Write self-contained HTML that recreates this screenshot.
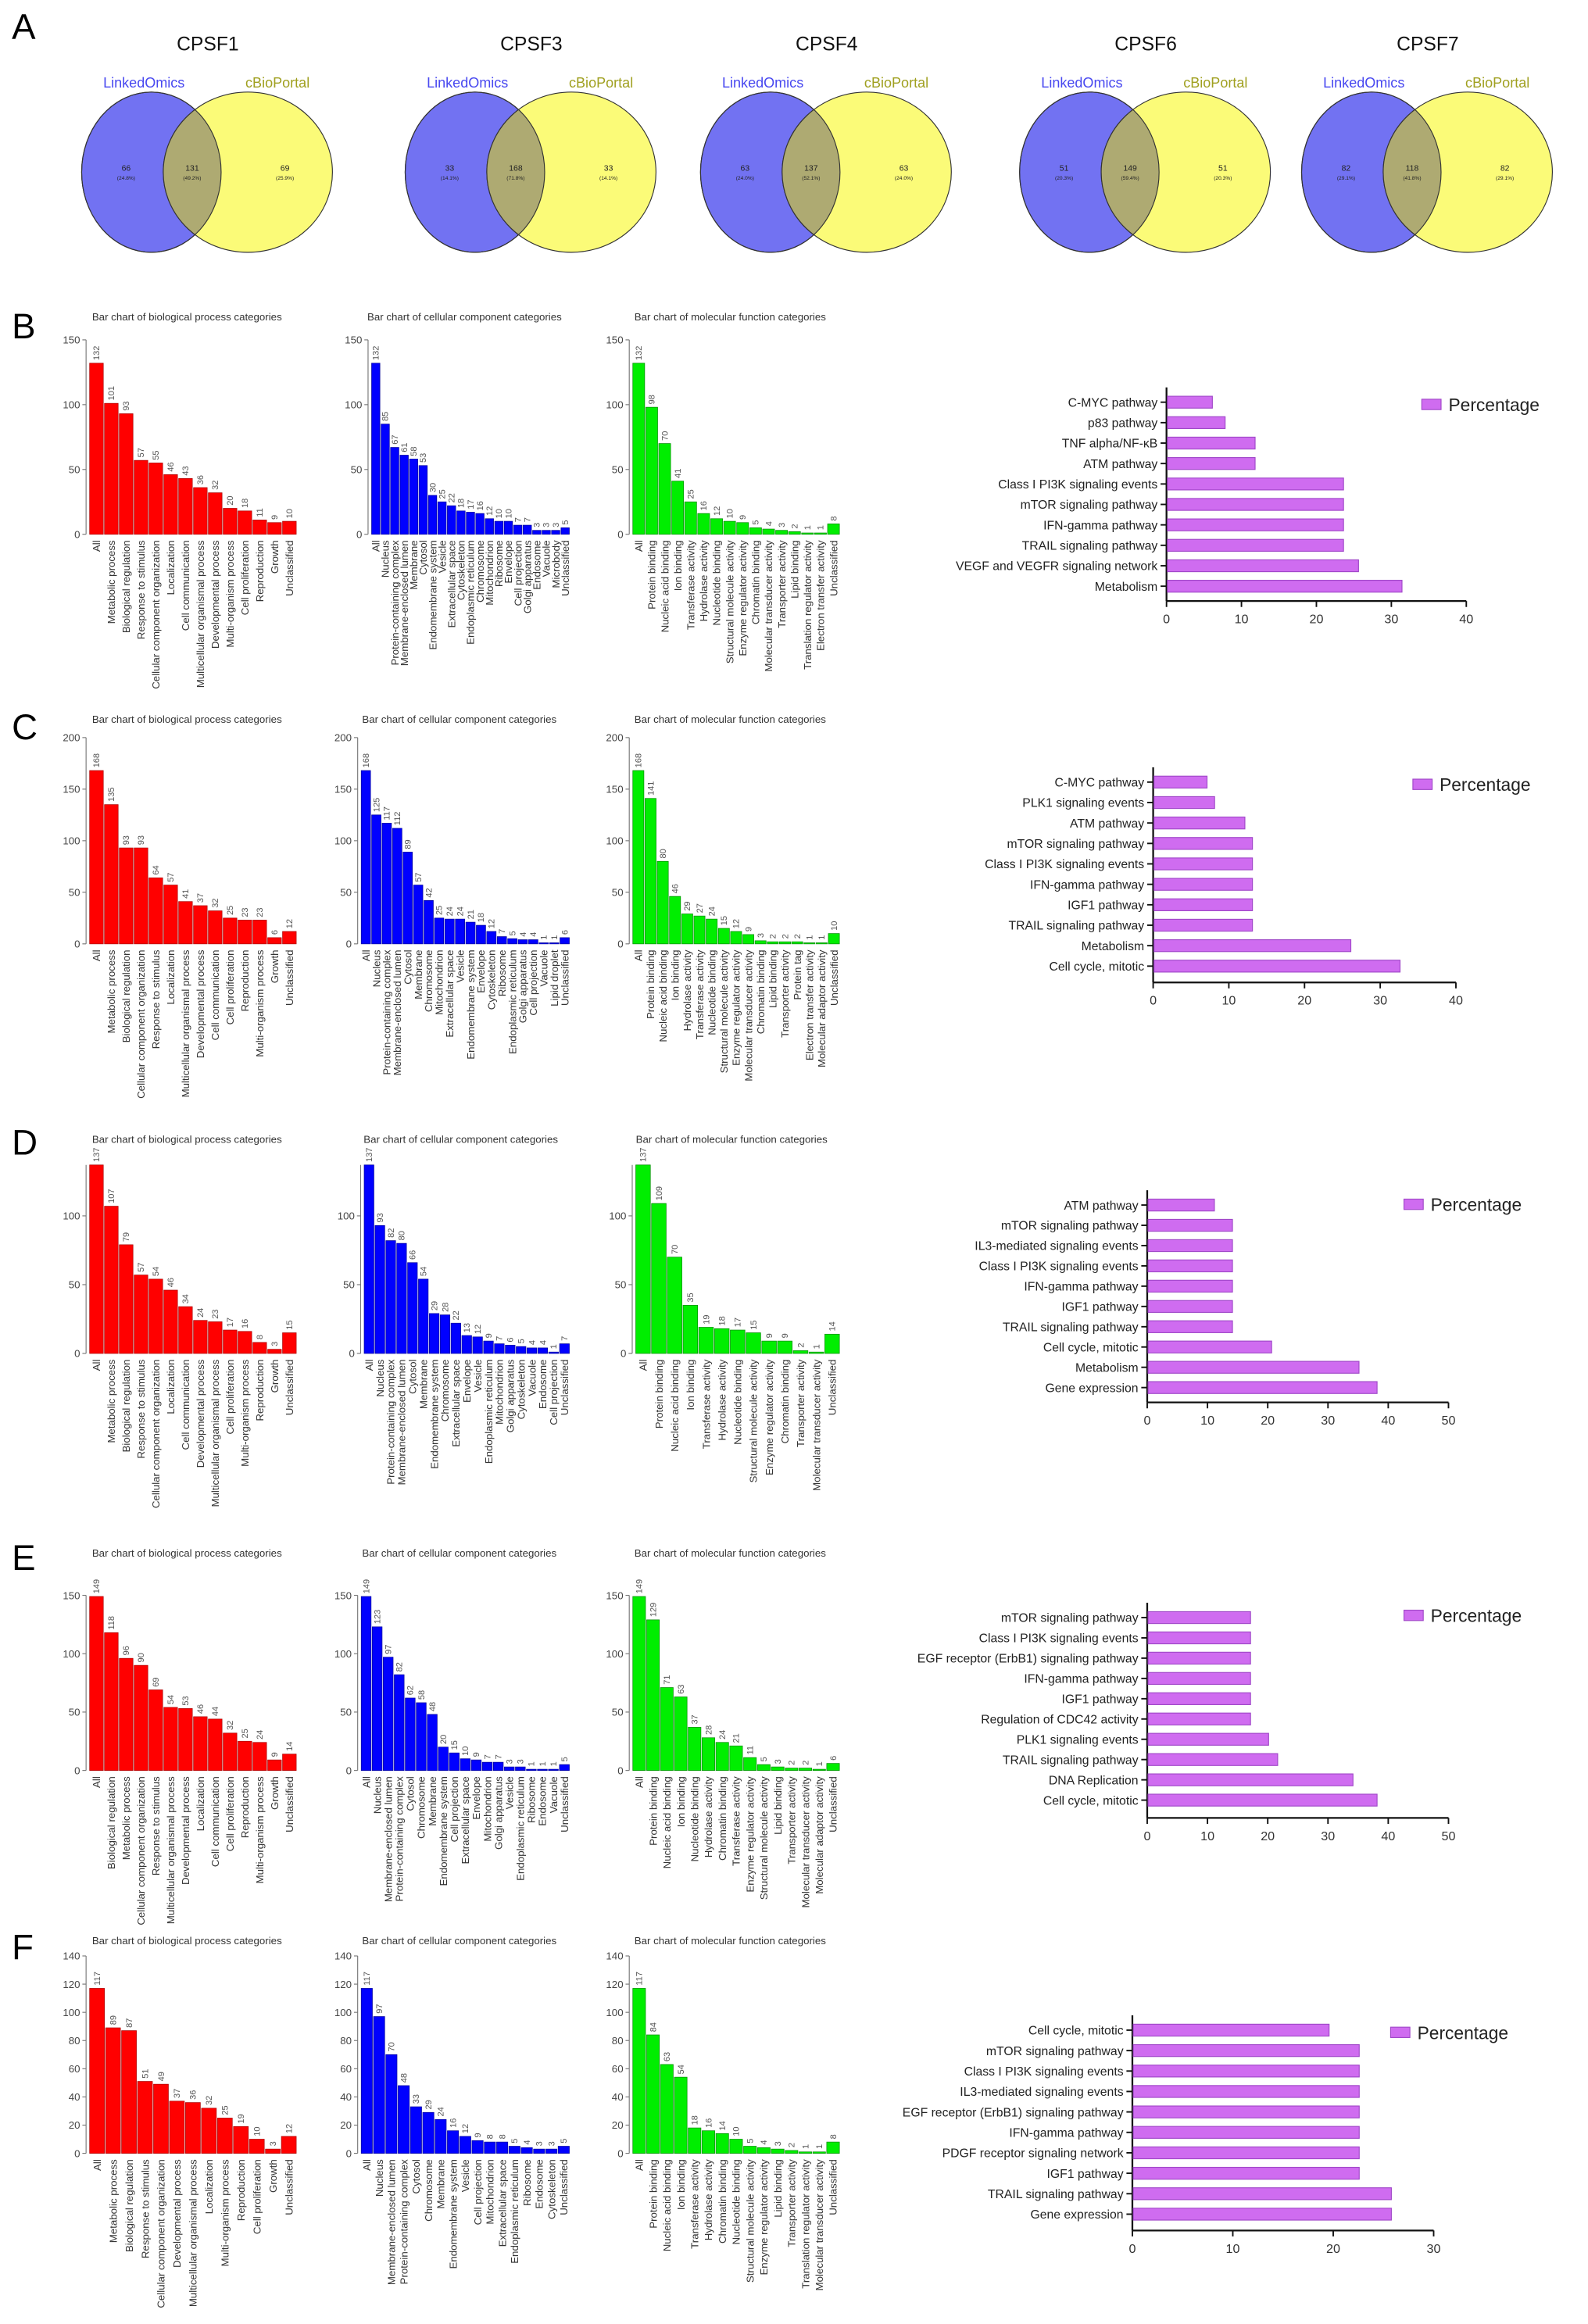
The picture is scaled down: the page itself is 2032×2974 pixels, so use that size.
<!DOCTYPE html>
<html><head><meta charset="utf-8"><style>
html,body{margin:0;padding:0;background:#fff}
svg{display:block;font-family:"Liberation Sans",sans-serif}
</style></head><body>
<svg id="fig" width="2032" height="2974" viewBox="0 0 1070 1566" xmlns="http://www.w3.org/2000/svg"></svg>
<script>
// ---------- Venn data ----------
const vennTitles=["CPSF1","CPSF3","CPSF4","CPSF6","CPSF7"];
const vennLeft=[66,33,63,51,82];
const vennShared=[131,168,137,149,118];
const vennRight=[69,33,63,51,82];
// ---------- Panel B ----------
const bBPcats=["All","Metabolic process","Biological regulation","Response to stimulus","Cellular component organization","Localization","Cell communication","Multicellular organismal process","Developmental process","Multi-organism process","Cell proliferation","Reproduction","Growth","Unclassified"];
const bBPvals=[132,101,93,57,55,46,43,36,32,20,18,11,9,10];
const bCCcats=["All","Nucleus","Protein-containing complex","Membrane-enclosed lumen","Membrane","Cytosol","Endomembrane system","Vesicle","Extracellular space","Cytoskeleton","Endoplasmic reticulum","Chromosome","Mitochondrion","Ribosome","Envelope","Cell projection","Golgi apparatus","Endosome","Vacuole","Microbody","Unclassified"];
const bCCvals=[132,85,67,61,58,53,30,25,22,18,17,16,12,10,10,7,7,3,3,3,5];
const bMFcats=["All","Protein binding","Nucleic acid binding","Ion binding","Transferase activity","Hydrolase activity","Nucleotide binding","Structural molecule activity","Enzyme regulator activity","Chromatin binding","Molecular transducer activity","Transporter activity","Lipid binding","Translation regulator activity","Electron transfer activity","Unclassified"];
const bMFvals=[132,98,70,41,25,16,12,10,9,5,4,3,2,1,1,8];
const bPathCats=["C-MYC pathway","p83 pathway","TNF alpha/NF-κB","ATM pathway","Class I PI3K signaling events","mTOR signaling pathway","IFN-gamma pathway","TRAIL signaling pathway","VEGF and VEGFR signaling network","Metabolism"];
const bPathVals=[6,7.7,11.7,11.7,23.5,23.5,23.5,23.5,25.5,31.3];
// ---------- Panel C ----------
const cBPcats=["All","Metabolic process","Biological regulation","Cellular component organization","Response to stimulus","Localization","Multicellular organismal process","Developmental process","Cell communication","Cell proliferation","Reproduction","Multi-organism process","Growth","Unclassified"];
const cBPvals=[168,135,93,93,64,57,41,37,32,25,23,23,6,12];
const cCCcats=["All","Nucleus","Protein-containing complex","Membrane-enclosed lumen","Cytosol","Membrane","Chromosome","Mitochondrion","Extracellular space","Vesicle","Endomembrane system","Envelope","Cytoskeleton","Ribosome","Endoplasmic reticulum","Golgi apparatus","Cell projection","Vacuole","Lipid droplet","Unclassified"];
const cCCvals=[168,125,117,112,89,57,42,25,24,24,21,18,12,7,5,4,4,1,1,6];
const cMFcats=["All","Protein binding","Nucleic acid binding","Ion binding","Hydrolase activity","Transferase activity","Nucleotide binding","Structural molecule activity","Enzyme regulator activity","Molecular transducer activity","Chromatin binding","Lipid binding","Transporter activity","Protein tag","Electron transfer activity","Molecular adaptor activity","Unclassified"];
const cMFvals=[168,141,80,46,29,27,24,15,12,9,3,2,2,2,1,1,10];
const cPathCats=["C-MYC pathway","PLK1 signaling events","ATM pathway","mTOR signaling pathway","Class I PI3K signaling events","IFN-gamma pathway","IGF1 pathway","TRAIL signaling pathway","Metabolism","Cell cycle, mitotic"];
const cPathVals=[7,8,12,13,13,13,13,13,26,32.5];
// ---------- Panel D ----------
const dBPcats=["All","Metabolic process","Biological regulation","Response to stimulus","Cellular component organization","Localization","Cell communication","Developmental process","Multicellular organismal process","Cell proliferation","Multi-organism process","Reproduction","Growth","Unclassified"];
const dBPvals=[137,107,79,57,54,46,34,24,23,17,16,8,3,15];
const dCCcats=["All","Nucleus","Protein-containing complex","Membrane-enclosed lumen","Cytosol","Membrane","Endomembrane system","Chromosome","Extracellular space","Envelope","Vesicle","Endoplasmic reticulum","Mitochondrion","Golgi apparatus","Cytoskeleton","Vacuole","Endosome","Cell projection","Unclassified"];
const dCCvals=[137,93,82,80,66,54,29,28,22,13,12,9,7,6,5,4,4,1,7];
const dMFcats=["All","Protein binding","Nucleic acid binding","Ion binding","Transferase activity","Hydrolase activity","Nucleotide binding","Structural molecule activity","Enzyme regulator activity","Chromatin binding","Transporter activity","Molecular transducer activity","Unclassified"];
const dMFvals=[137,109,70,35,19,18,17,15,9,9,2,1,14];
const dPathCats=["ATM pathway","mTOR signaling pathway","IL3-mediated signaling events","Class I PI3K signaling events","IFN-gamma pathway","IGF1 pathway","TRAIL signaling pathway","Cell cycle, mitotic","Metabolism","Gene expression"];
const dPathVals=[11,14,14,14,14,14,14,20.5,35,38];
// ---------- Panel E ----------
const eBPcats=["All","Biological regulation","Metabolic process","Cellular component organization","Response to stimulus","Multicellular organismal process","Developmental process","Localization","Cell communication","Cell proliferation","Reproduction","Multi-organism process","Growth","Unclassified"];
const eBPvals=[149,118,96,90,69,54,53,46,44,32,25,24,9,14];
const eCCcats=["All","Nucleus","Membrane-enclosed lumen","Protein-containing complex","Cytosol","Chromosome","Membrane","Endomembrane system","Cell projection","Extracellular space","Envelope","Mitochondrion","Golgi apparatus","Vesicle","Endoplasmic reticulum","Ribosome","Endosome","Vacuole","Unclassified"];
const eCCvals=[149,123,97,82,62,58,48,20,15,10,9,7,7,3,3,1,1,1,5];
const eMFcats=["All","Protein binding","Nucleic acid binding","Ion binding","Nucleotide binding","Hydrolase activity","Chromatin binding","Transferase activity","Enzyme regulator activity","Structural molecule activity","Lipid binding","Transporter activity","Molecular transducer activity","Molecular adaptor activity","Unclassified"];
const eMFvals=[149,129,71,63,37,28,24,21,11,5,3,2,2,1,6];
const ePathCats=["mTOR signaling pathway","Class I PI3K signaling events","EGF receptor (ErbB1) signaling pathway","IFN-gamma pathway","IGF1 pathway","Regulation of CDC42 activity","PLK1 signaling events","TRAIL signaling pathway","DNA Replication","Cell cycle, mitotic"];
const ePathVals=[17,17,17,17,17,17,20,21.5,34,38];
// ---------- Panel F ----------
const fBPcats=["All","Metabolic process","Biological regulation","Response to stimulus","Cellular component organization","Developmental process","Multicellular organismal process","Localization","Multi-organism process","Reproduction","Cell proliferation","Growth","Unclassified"];
const fBPvals=[117,89,87,51,49,37,36,32,25,19,10,3,12];
const fCCcats=["All","Nucleus","Membrane-enclosed lumen","Protein-containing complex","Cytosol","Chromosome","Membrane","Endomembrane system","Vesicle","Cell projection","Mitochondrion","Extracellular space","Endoplasmic reticulum","Ribosome","Endosome","Cytoskeleton","Unclassified"];
const fCCvals=[117,97,70,48,33,29,24,16,12,9,8,8,5,4,3,3,5];
const fMFcats=["All","Protein binding","Nucleic acid binding","Ion binding","Transferase activity","Hydrolase activity","Chromatin binding","Nucleotide binding","Structural molecule activity","Enzyme regulator activity","Lipid binding","Transporter activity","Translation regulator activity","Molecular transducer activity","Unclassified"];
const fMFvals=[117,84,63,54,18,16,14,10,5,4,3,2,1,1,8];
const fPathCats=["Cell cycle, mitotic","mTOR signaling pathway","Class I PI3K signaling events","IL3-mediated signaling events","EGF receptor (ErbB1) signaling pathway","IFN-gamma pathway","PDGF receptor signaling network","IGF1 pathway","TRAIL signaling pathway","Gene expression"];
const fPathVals=[19.5,22.5,22.5,22.5,22.5,22.5,22.5,22.5,25.7,25.7];

const NS="http://www.w3.org/2000/svg";
const svg=document.getElementById('fig');
function mk(tag,attrs,parent,text){const e=document.createElementNS(NS,tag);for(const k in attrs)e.setAttribute(k,attrs[k]);if(text!==undefined)e.textContent=text;(parent||svg).appendChild(e);return e;}

// Panel letters
[["A",18],["B",220],["C",490],["D",770],["E",1050],["F",1312]].forEach(p=>{
  const t=mk('text',{x:8,y:p[1]+8,'font-size':24,fill:'#000'},svg,p[0]);
  
  
});

// Venns
const vennCx=[140,358,557,772,962];
const defs=mk('defs',{});
vennTitles.forEach((title,i)=>{
  const g=mk('g',{});
  
  
  const cx=vennCx[i],cy=116,ry=54,lx=cx-38,rx=cx+27,lrx=47,rrx=57;
  mk('text',{x:cx,y:34,'font-size':13,'text-anchor':'middle',fill:'#111'},g,title);
  mk('text',{x:cx-43,y:59,'font-size':9.5,'text-anchor':'middle',fill:'#4848f0'},g,'LinkedOmics');
  mk('text',{x:cx+47,y:59,'font-size':9.5,'text-anchor':'middle',fill:'#a0a020'},g,'cBioPortal');
  mk('ellipse',{cx:lx,cy:cy,rx:lrx,ry:ry,fill:'#7272f2',stroke:'#333','stroke-width':0.6},g);
  mk('ellipse',{cx:rx,cy:cy,rx:rrx,ry:ry,fill:'#fbfb78',stroke:'#333','stroke-width':0.6},g);
  const cp=mk('clipPath',{id:'cp'+i},defs);mk('ellipse',{cx:lx,cy:cy,rx:lrx,ry:ry},cp);
  mk('ellipse',{cx:rx,cy:cy,rx:rrx,ry:ry,fill:'#aeaa72',stroke:'#333','stroke-width':0.6,'clip-path':'url(#cp'+i+')'},g);
  mk('ellipse',{cx:lx,cy:cy,rx:lrx,ry:ry,fill:'none',stroke:'#333','stroke-width':0.6},g);
  const tl=(x,v,p)=>{mk('text',{x:x,y:cy-1,'font-size':5.5,'text-anchor':'middle',fill:'#222'},g,v);mk('text',{x:x,y:cy+5,'font-size':3.5,'text-anchor':'middle',fill:'#222'},g,p);};
  const tot=vennLeft[i]+vennShared[i]+vennRight[i];
  const ov=(lx+lrx+rx-rrx)/2;
  tl(cx-55,vennLeft[i],'('+(vennLeft[i]/tot*100).toFixed(1)+'%)');
  tl(ov,vennShared[i],'('+(vennShared[i]/tot*100).toFixed(1)+'%)');
  tl(cx+52,vennRight[i],'('+(vennRight[i]/tot*100).toFixed(1)+'%)');
});

// Vertical bar chart
function barChart(o){
  const g=mk('g',{});
  
  
  const yS=v=>o.y0-(v/o.max)*(o.y0-o.yTop);
  const n=o.cats.length,bw=(o.x1-o.x0)/n;
  mk('text',{x:o.x0+(o.x1-o.x0)/2-4,y:o.titleY,'font-size':7,'text-anchor':'middle',fill:'#333'},g,o.title);
  mk('line',{x1:o.x0-2,y1:o.yTop,x2:o.x0-2,y2:o.y0,stroke:'#777','stroke-width':0.6},g);
  o.ticks.forEach(t=>{
    mk('line',{x1:o.x0-4.5,y1:yS(t),x2:o.x0-2,y2:yS(t),stroke:'#777','stroke-width':0.6},g);
    mk('text',{x:o.x0-6,y:yS(t)+2.5,'font-size':7,'text-anchor':'end',fill:'#444'},g,t);
  });
  o.cats.forEach((c,i)=>{
    const x=o.x0+i*bw,v=o.vals[i];
    const b=mk('rect',{x:x+0.4,y:yS(v),width:bw-0.8,height:o.y0-yS(v),fill:o.color,stroke:o.stroke,'stroke-width':0.4},g);
    
    
    const xm=x+bw/2;
    mk('text',{x:xm+2,y:yS(v)-2,'font-size':5.8,fill:'#555',transform:`rotate(-90 ${xm+2} ${yS(v)-2})`},g,v);
    mk('text',{x:xm+2.5,y:o.y0+4,'font-size':7,'text-anchor':'end',fill:'#333',transform:`rotate(-90 ${xm+2.5} ${o.y0+4})`},g,c);
  });
}
// Horizontal pathway chart
function pathChart(o){
  const g=mk('g',{});
  
  
  const xS=v=>o.x0+(v/o.max)*(o.x1-o.x0);
  const n=o.cats.length,step=(o.yLast-o.yFirst)/(n-1);
  mk('line',{x1:o.x0,y1:o.yFirst-10,x2:o.x0,y2:o.yBot,stroke:'#111','stroke-width':1.2},g);
  mk('line',{x1:o.x0,y1:o.yBot,x2:o.x1,y2:o.yBot,stroke:'#111','stroke-width':1.2},g);
  o.ticks.forEach(t=>{
    mk('line',{x1:xS(t),y1:o.yBot,x2:xS(t),y2:o.yBot+4,stroke:'#111','stroke-width':1},g);
    mk('text',{x:xS(t),y:o.yBot+15,'font-size':8.5,'text-anchor':'middle',fill:'#333'},g,t);
  });
  o.cats.forEach((c,i)=>{
    const y=o.yFirst+i*step,v=o.vals[i];
    mk('line',{x1:o.x0-4,y1:y,x2:o.x0,y2:y,stroke:'#111','stroke-width':1},g);
    const b=mk('rect',{x:o.x0+0.6,y:y-4,width:xS(v)-o.x0,height:8,fill:'#cf6cf0',stroke:'#a048c8','stroke-width':0.6},g);
    
    
    mk('text',{x:o.x0-6,y:y+3,'font-size':8.3,'text-anchor':'end',fill:'#222'},g,c);
  });
  mk('rect',{x:o.lx,y:o.ly-4,width:13,height:7,fill:'#cf6cf0',stroke:'#a048c8','stroke-width':0.6},g);
  mk('text',{x:o.lx+18,y:o.ly+4,'font-size':12,fill:'#222'},g,'Percentage');
}

const rows=[
 {p:'b',titleY:216,yTop:229,y0:360,max:150,ticks:[0,50,100,150],xs:[[60,200],[250,384],[426,566]],bp:[bBPcats,bBPvals],cc:[bCCcats,bCCvals],mf:[bMFcats,bMFvals],
  path:{cats:bPathCats,vals:bPathVals,x0:786,x1:988,max:40,ticks:[0,10,20,30,40],yFirst:271,yLast:395,yBot:405,lx:958,ly:273}},
 {p:'c',titleY:487,yTop:497,y0:636,max:200,ticks:[0,50,100,150,200],xs:[[60,200],[243,384],[426,566]],bp:[cBPcats,cBPvals],cc:[cCCcats,cCCvals],mf:[cMFcats,cMFvals],
  path:{cats:cPathCats,vals:cPathVals,x0:777,x1:981,max:40,ticks:[0,10,20,30,40],yFirst:527,yLast:651,yBot:662,lx:952,ly:529}},
 {p:'d',titleY:770,yTop:785,y0:912,max:137,ticks:[0,50,100],xs:[[60,200],[245,384],[428,566]],bp:[dBPcats,dBPvals],cc:[dCCcats,dCCvals],mf:[dMFcats,dMFvals],
  path:{cats:dPathCats,vals:dPathVals,x0:773,x1:976,max:50,ticks:[0,10,20,30,40,50],yFirst:812,yLast:935,yBot:945,lx:946,ly:812}},
 {p:'e',titleY:1049,yTop:1075,y0:1193,max:150,ticks:[0,50,100,150],xs:[[60,200],[243,384],[426,566]],bp:[eBPcats,eBPvals],cc:[eCCcats,eCCvals],mf:[eMFcats,eMFvals],
  path:{cats:ePathCats,vals:ePathVals,x0:773,x1:976,max:50,ticks:[0,10,20,30,40,50],yFirst:1090,yLast:1213,yBot:1225,lx:946,ly:1089}},
 {p:'f',titleY:1310,yTop:1318,y0:1451,max:140,ticks:[0,20,40,60,80,100,120,140],xs:[[60,200],[243,384],[426,566]],bp:[fBPcats,fBPvals],cc:[fCCcats,fCCvals],mf:[fMFcats,fMFvals],
  path:{cats:fPathCats,vals:fPathVals,x0:763,x1:966,max:30,ticks:[0,10,20,30],yFirst:1368,yLast:1492,yBot:1503,lx:937,ly:1370}}
];
rows.forEach(r=>{
  const common={titleY:r.titleY,yTop:r.yTop,y0:r.y0,max:r.max,ticks:r.ticks};
  barChart(Object.assign({},common,{name:'panel-'+r.p+'-biological-process-chart',title:'Bar chart of biological process categories',cats:r.bp[0],vals:r.bp[1],x0:r.xs[0][0],x1:r.xs[0][1],color:'#ff0000',stroke:'#b00000'}));
  barChart(Object.assign({},common,{name:'panel-'+r.p+'-cellular-component-chart',title:'Bar chart of cellular component categories',cats:r.cc[0],vals:r.cc[1],x0:r.xs[1][0],x1:r.xs[1][1],color:'#0000ff',stroke:'#0000a0'}));
  barChart(Object.assign({},common,{name:'panel-'+r.p+'-molecular-function-chart',title:'Bar chart of molecular function categories',cats:r.mf[0],vals:r.mf[1],x0:r.xs[2][0],x1:r.xs[2][1],color:'#00ee00',stroke:'#009000'}));
  pathChart(Object.assign({name:'panel-'+r.p+'-pathway-chart'},r.path));
});
</script>
</body></html>
